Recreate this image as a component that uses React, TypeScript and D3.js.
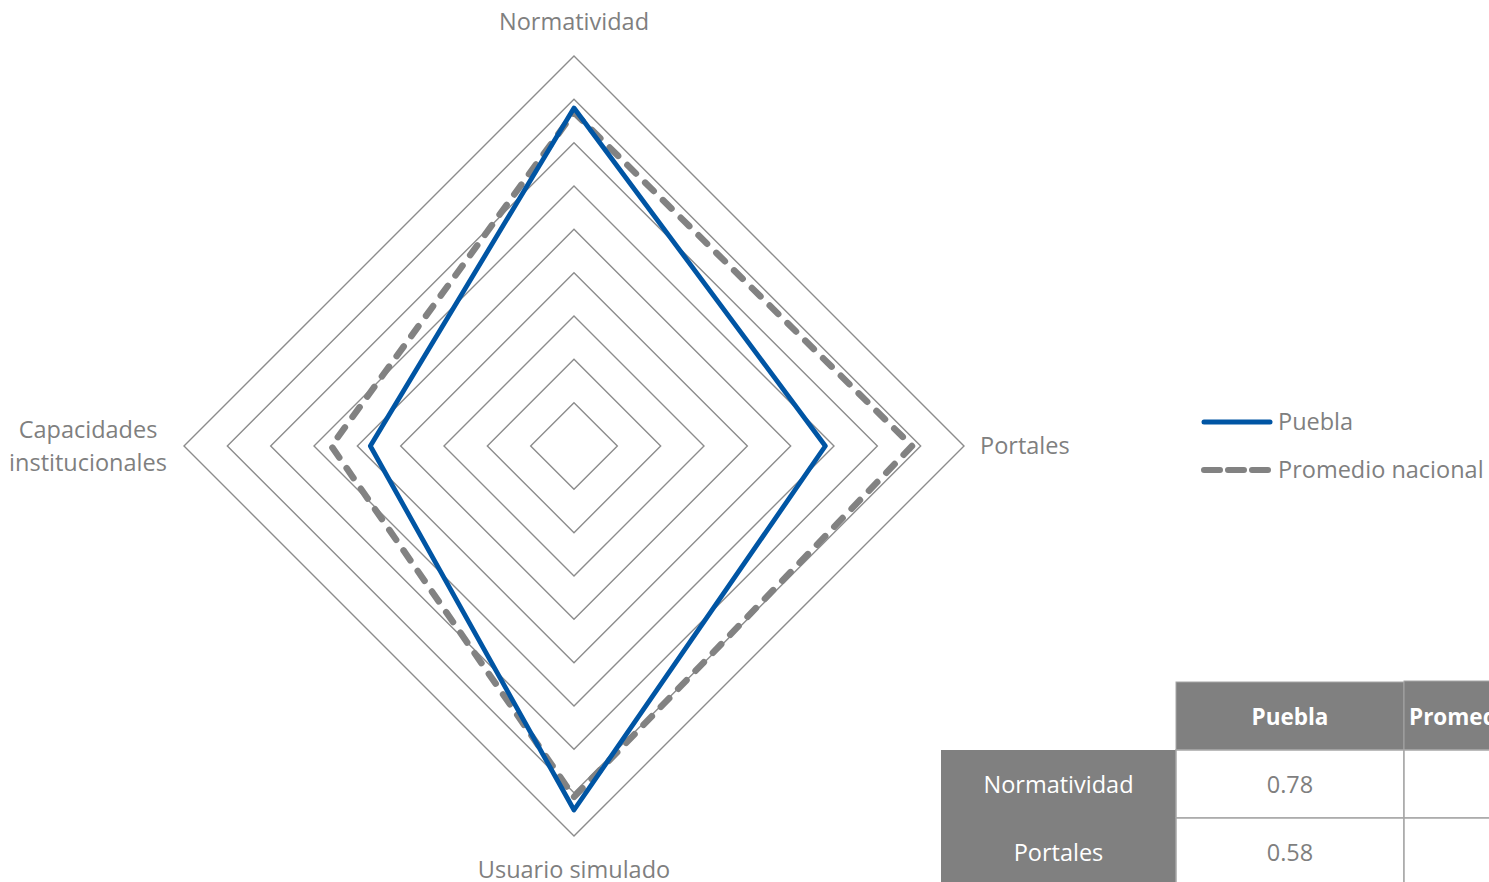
import React from "react";
import * as d3 from "d3";

// ejes del radar (sentido horario, empezando arriba)
const axes = ["Normatividad", "Portales", "Usuario simulado", "Capacidades institucionales"];
const pueblaValues = [0.78, 0.58, 0.84, 0.47];
const promedioValues = [0.77, 0.78, 0.81, 0.56];
const ringTicks = [0.1, 0.2, 0.3, 0.4, 0.5, 0.6, 0.7, 0.8, 0.9];

// tabla inferior
const tableHeaders = ["Puebla", "Promedio nacional"];
const tableRows = ["Normatividad", "Portales", "Usuario simulado", "Capacidades institucionales"];

const W = 1489;
const H = 882;
const cx = 574;
const cy = 446;
const FONT = "'Open Sans', 'DejaVu Sans', sans-serif";
const FS = 23.5;
const GRAY_TXT = "#7f7f7f";
const BLUE = "#0055a4";
const DASH_GRAY = "#828282";

const App: React.FC = () => {
  const r = d3.scaleLinear().domain([0, 0.9]).range([0, 390]);
  const angle = (i: number) => (i * Math.PI) / 2;

  const ring = d3
    .lineRadial<number>()
    .angle((_, i) => angle(i))
    .radius((d) => r(d))
    .curve(d3.curveLinearClosed);

  const series = d3
    .lineRadial<number>()
    .angle((_, i) => angle(i))
    .radius((d) => r(d))
    .curve(d3.curveLinearClosed);

  // etiquetas de ejes
  const labelPos = [
    { x: cx, y: 30, anchor: "middle" },
    { x: 980, y: cy + 8, anchor: "start" },
    { x: cx, y: 878, anchor: "middle" },
    { x: 88, y: 438, anchor: "middle" },
  ];

  // tabla
  const colX = [941, 1176, 1404, 1614];
  const headerTop = 682;
  const rowH = 68;
  const bodyTop = 750;

  return (
    <svg
      width={W}
      height={H}
      style={{ position: "absolute", left: 0, top: 0, background: "#fff" }}
      fontFamily={FONT}
    >
      <g transform={`translate(${cx},${cy})`}>
        {ringTicks.map((t) => (
          <path
            key={t}
            d={ring(axes.map(() => t)) || ""}
            fill="none"
            stroke="#8c8c8c"
            strokeWidth={1.4}
          />
        ))}
        <path
          d={series(promedioValues) || ""}
          fill="none"
          stroke={DASH_GRAY}
          strokeWidth={6.5}
          strokeDasharray="12 13"
          strokeLinecap="round"
          strokeLinejoin="round"
        />
        <path
          d={series(pueblaValues) || ""}
          fill="none"
          stroke={BLUE}
          strokeWidth={4.8}
          strokeLinejoin="round"
        />
      </g>

      {axes.map((a, i) => {
        const p = labelPos[i];
        if (i === 3) {
          const parts = ["Capacidades", "institucionales"];
          return (
            <text key={a} x={p.x} y={p.y} textAnchor="middle" fontSize={FS} fill={GRAY_TXT}>
              {parts.map((s, j) => (
                <tspan key={s} x={p.x} dy={j === 0 ? 0 : 33}>
                  {s}
                </tspan>
              ))}
            </text>
          );
        }
        return (
          <text
            key={a}
            x={p.x}
            y={p.y}
            textAnchor={p.anchor as any}
            fontSize={FS}
            fill={GRAY_TXT}
          >
            {a}
          </text>
        );
      })}

      {/* leyenda */}
      <g>
        <line x1={1204} x2={1270} y1={422} y2={422} stroke={BLUE} strokeWidth={5} strokeLinecap="round" />
        <text x={1278} y={430} fontSize={FS} fill={GRAY_TXT}>
          Puebla
        </text>
        <line
          x1={1204}
          x2={1270}
          y1={470}
          y2={470}
          stroke={DASH_GRAY}
          strokeWidth={6}
          strokeDasharray="16 8"
          strokeLinecap="round"
        />
        <text x={1278} y={478} fontSize={FS} fill={GRAY_TXT}>
          {tableHeaders[1]}
        </text>
      </g>

      {/* tabla */}
      <g>
        {tableHeaders.map((h, i) => (
          <g key={h}>
            <rect
              x={colX[i + 1]}
              y={headerTop - (i === 1 ? 1 : 0)}
              width={colX[i + 2] - colX[i + 1]}
              height={bodyTop - headerTop + (i === 1 ? 1 : 0)}
              fill="#808080"
              stroke="#a6a6a6"
              strokeWidth={1}
            />
            <text
              x={i === 0 ? (colX[i + 1] + colX[i + 2]) / 2 : colX[i + 1] + 5}
              y={headerTop + 43}
              textAnchor={i === 0 ? "middle" : "start"}
              fontSize={FS - 1}
              fontWeight="bold"
              fill="#fff"
            >
              {h}
            </text>
          </g>
        ))}
        {tableRows.map((row, j) => {
          const y0 = bodyTop + j * rowH;
          const vals = [pueblaValues[j], promedioValues[j]];
          return (
            <g key={row}>
              <rect x={colX[0]} y={y0} width={colX[1] - colX[0]} height={rowH} fill="#808080" />
              <text
                x={(colX[0] + colX[1]) / 2}
                y={y0 + 43}
                textAnchor="middle"
                fontSize={FS}
                fill="#fff"
              >
                {row}
              </text>
              {vals.map((v, k) => (
                <g key={k}>
                  <rect
                    x={colX[k + 1]}
                    y={y0}
                    width={colX[k + 2] - colX[k + 1]}
                    height={rowH}
                    fill="#fff"
                    stroke="#a6a6a6"
                    strokeWidth={1.5}
                  />
                  <text
                    x={(colX[k + 1] + colX[k + 2]) / 2}
                    y={y0 + 43}
                    textAnchor="middle"
                    fontSize={FS}
                    fill={GRAY_TXT}
                  >
                    {k === 0 ? d3.format(".2f")(v) : ""}
                  </text>
                </g>
              ))}
            </g>
          );
        })}
      </g>
    </svg>
  );
};

export default App;
